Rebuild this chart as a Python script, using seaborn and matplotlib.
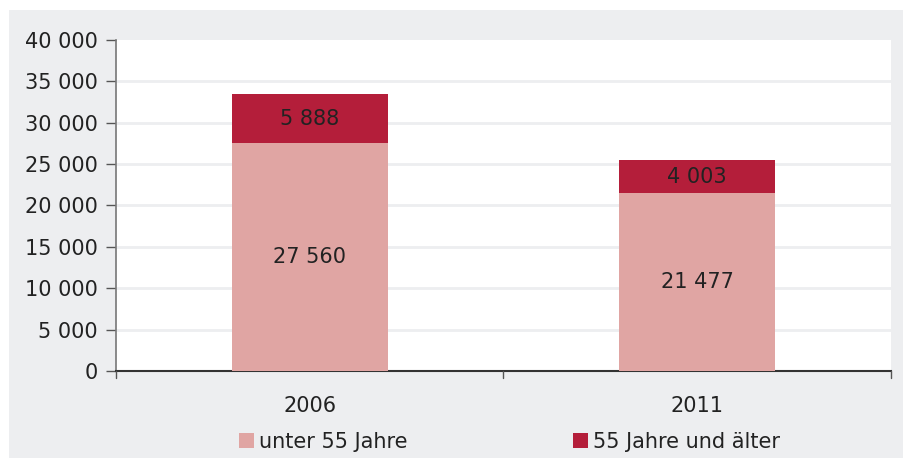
import matplotlib
matplotlib.use("Agg")
import matplotlib.pyplot as plt
import seaborn as sns
import pandas as pd
from matplotlib.patches import Rectangle, Patch

years = ["2006", "2011"]
under55 = [27560, 21477]
over55 = [5888, 4003]
series_names = ["unter 55 Jahre", "55 Jahre und älter"]
yticks = [0, 5000, 10000, 15000, 20000, 25000, 30000, 35000, 40000]

light = "#E0A5A3"
dark = "#B41E3A"
bg = "#EDEEF0"
txt = "#222222"
fs = 15

sns.set_theme(style="white")
plt.rcParams["font.family"] = ["DejaVu Sans"]

def fmt(v):
    return f"{v:,}".replace(",", " ")

totals = [a + b for a, b in zip(under55, over55)]
df = pd.DataFrame({"year": years, "under": under55, "over": over55, "total": totals})

fig = plt.figure(figsize=(9.04, 4.59), dpi=100)
fig.patch.set_facecolor("white")
fig.patches.append(Rectangle((9/904, 1/459), 1 - 9/904, 448/459,
                             transform=fig.transFigure, facecolor=bg,
                             edgecolor="none", zorder=-10))

ax = fig.add_axes([116/904, 1 - 371/459, (891 - 116)/904, (371 - 40)/459])
ax.set_zorder(5)
ax.set_facecolor("white")

sns.barplot(data=df, x="year", y="total", color=dark, width=0.403,
            saturation=1, ax=ax, zorder=3, edgecolor="none")
sns.barplot(data=df, x="year", y="under", color=light, width=0.403,
            saturation=1, ax=ax, zorder=4, edgecolor="none")

for i, (u, o) in enumerate(zip(under55, over55)):
    ax.text(i, u / 2, fmt(u), ha="center", va="center", fontsize=fs,
            color=txt, zorder=5)
    ax.text(i, u + o / 2, fmt(o), ha="center", va="center", fontsize=fs,
            color=txt, zorder=5)

ax.set_ylim(0, 40000)
ax.set_xlim(-0.5, 1.5)
ax.set_yticks(yticks)
ax.set_yticklabels([fmt(v) for v in yticks], fontsize=fs, color=txt)
for y in yticks[1:-1]:
    ax.axhline(y, color=bg, lw=2, zorder=1)

ax.set_xticks([0, 1])
ax.set_xticklabels(years, fontsize=fs, color=txt)
ax.tick_params(axis="x", length=0, pad=18)
ax.tick_params(axis="y", length=7, width=1, color="#555555", pad=6, left=True)
for xb in [-0.5, 0.5, 1.5]:
    ax.plot([xb, xb], [0, -0.022], transform=ax.get_xaxis_transform(),
            color="#555555", lw=1, clip_on=False, zorder=6)

ax.set_xlabel("")
ax.set_ylabel("")
for s in ["top", "right"]:
    ax.spines[s].set_visible(False)
ax.spines["left"].set_color("#777777")
ax.spines["left"].set_linewidth(1.2)
ax.spines["bottom"].set_color("#333333")
ax.spines["bottom"].set_linewidth(1.5)

handles = [Patch(facecolor=light, edgecolor="none"), Patch(facecolor=dark, edgecolor="none")]
leg = fig.legend(handles, series_names, loc="center", bbox_to_anchor=(509.5/904, 1 - 442/459),
                 ncol=2, frameon=False, fontsize=fs, handlelength=0.72,
                 handleheight=0.72, handletextpad=0.25, columnspacing=7.9)
for t in leg.get_texts():
    t.set_color(txt)

fig.savefig("out.png", dpi=100, facecolor=fig.get_facecolor())
